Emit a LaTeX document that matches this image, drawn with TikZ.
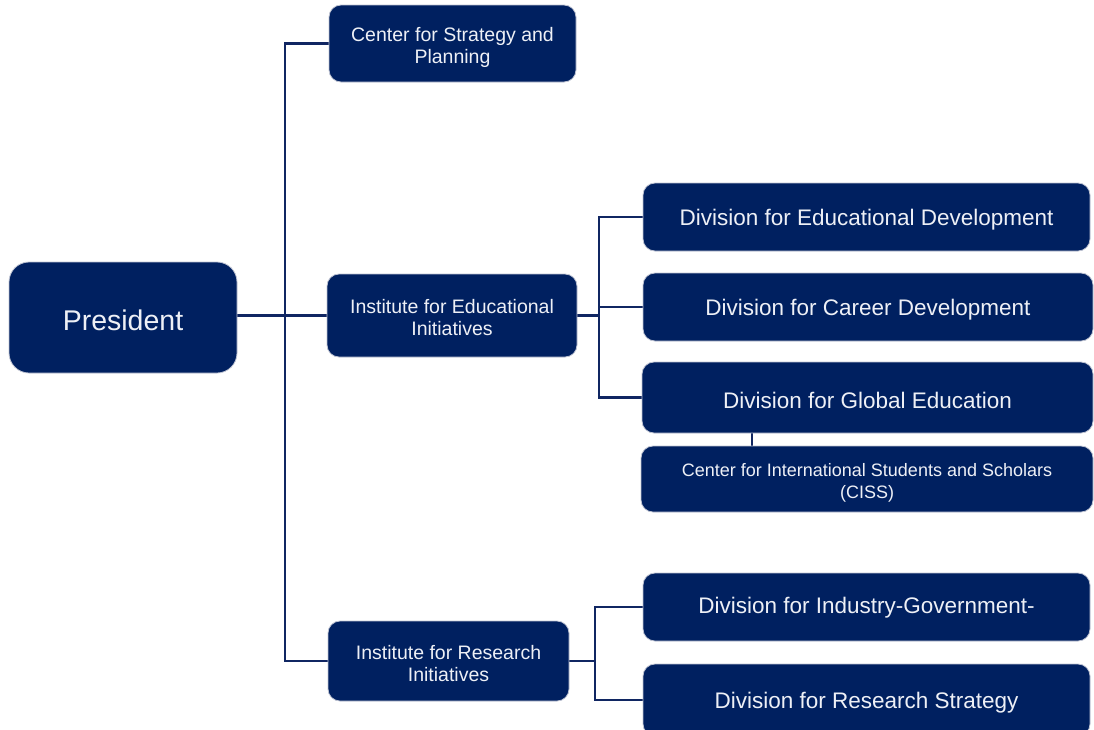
\documentclass[tikz,border=0pt]{standalone}
\usepackage{fontspec}
\setmainfont{Liberation Sans}
\usetikzlibrary{backgrounds}
\definecolor{navy}{RGB}{0,32,96}
\definecolor{rim}{RGB}{190,195,210}
\definecolor{wire}{RGB}{16,38,98}
\definecolor{ink}{RGB}{238,240,246}
% a tall strut on the first line sets the text a little below the box centre
\newcommand{\lowstrut}{\rule{0pt}{\dimexpr0.73em+6pt\relax}}
\tikzset{
  unit/.style={draw=rim, line width=0.8pt, fill=navy, text=ink, rounded corners=12pt,
    align=center, inner sep=0pt, font=\fontsize{19.5}{22}\selectfont,
    execute at begin node=\lowstrut},
  twoline/.style={unit, execute at begin node={}, text height=44pt, text depth=4pt},
  wide/.style={unit, font=\fontsize{22.5}{26}\selectfont},
  conn/.style={draw=wire, line width=2.5pt}
}
\begin{document}
\begin{tikzpicture}[x=1pt, y=-1pt]
\useasboundingbox (0,0) rectangle (1094,729);

% head of the organisation
\node[unit, rounded corners=20pt, minimum width=228, minimum height=111,
      font=\fontsize{28.5}{32}\selectfont, execute at begin node={}] (pres) at (123,317.5) {President};

% first level
\node[twoline, minimum width=247, minimum height=77] (strat) at (452.5,43.5)
  {Center for Strategy and\\Planning};
\node[twoline, minimum width=250, minimum height=83] (iei) at (452,315.5)
  {Institute for Educational\\Initiatives};
\node[twoline, minimum width=241, minimum height=80] (iri) at (448.5,661)
  {Institute for Research\\Initiatives};

% divisions under the educational institute
\node[wide, minimum width=447, minimum height=68] (ded) at (866.5,217)
  {Division for Educational Development};
\node[wide, minimum width=450, minimum height=68] (dcd) at (868,307)
  {Division for Career Development};
\node[wide, minimum width=451, minimum height=71] (dge) at (867.5,397.5)
  {Division for Global Education};
\node[twoline, minimum width=452, minimum height=66, font=\fontsize{18}{22}\selectfont,
      text height=43pt]
  (ciss) at (867,479)
  {Center for International Students and Scholars\\(CISS)};

% divisions under the research institute
\node[wide, minimum width=447, minimum height=68] (dig) at (866.5,607)
  {\raisebox{5pt}{Division for Industry-Government-}};
\node[wide, minimum width=447, minimum height=72] (drs) at (866.5,700)
  {Division for Research Strategy};

% branch lines
\coordinate (trunk) at (285,0);
\coordinate (eb) at (599,0);
\coordinate (rb) at (595,0);
\coordinate (gc) at (752,0);

\begin{scope}[on background layer]
  \draw[conn] (strat.west) -- (strat.west -| trunk) -- (iri.west -| trunk) -- (iri.west);
  \draw[conn] (iei.west -| pres.east) -- (iei.west);
  \draw[conn] (iei.east) -- (iei.east -| eb);
  \draw[conn] (ded.west) -- (ded.west -| eb) -- (dge.west -| eb) -- (dge.west);
  \draw[conn] (dcd.west) -- (dcd.west -| eb);
  \draw[conn] (dge.south -| gc) -- (ciss.north -| gc);
  \draw[conn] (iri.east) -- (iri.east -| rb);
  \draw[conn] (dig.west) -- (dig.west -| rb) -- (drs.west -| rb) -- (drs.west);
\end{scope}
\end{tikzpicture}
\end{document}
